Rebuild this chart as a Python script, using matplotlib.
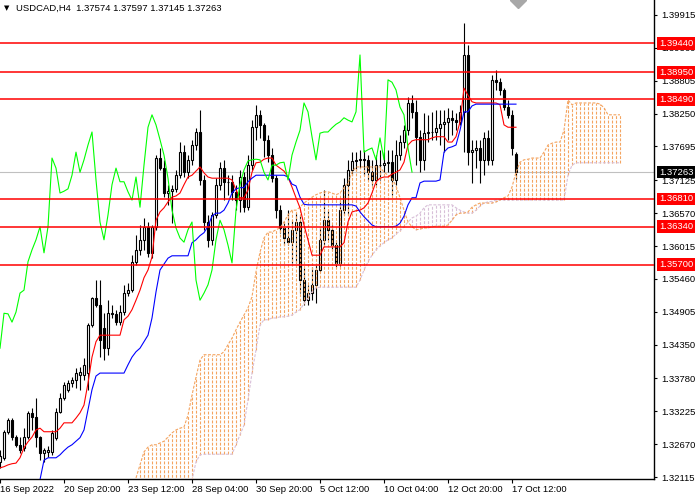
import matplotlib
matplotlib.use("Agg")
import matplotlib.pyplot as plt
from matplotlib.patches import Rectangle

plt.rcParams['font.family'] = ['Liberation Sans', 'DejaVu Sans']

# ---------------- data ----------------
symbol = "USDCAD,H4"

opens = [1.3237, 1.3244, 1.3288, 1.3308, 1.3279, 1.3266, 1.3261, 1.3279, 1.3320, 1.3313,
         1.3279, 1.3252, 1.3254, 1.3254, 1.3278, 1.3321, 1.3345, 1.3359, 1.3370, 1.3375,
         1.3384, 1.3384, 1.3387, 1.3468, 1.3514, 1.3502, 1.3463, 1.3429, 1.3488, 1.3487,
         1.3473, 1.3490, 1.3522, 1.3527, 1.3575, 1.3595, 1.3612, 1.3634, 1.3590, 1.3634,
         1.3750, 1.3733, 1.3691, 1.3694, 1.3698, 1.3721, 1.3760, 1.3726, 1.3747, 1.3772,
         1.3794, 1.3713, 1.3642, 1.3612, 1.3654, 1.3705, 1.3733, 1.3710, 1.3710, 1.3693,
         1.3679, 1.3718, 1.3667, 1.3738, 1.3802, 1.3823, 1.3806, 1.3781, 1.3755, 1.3716,
         1.3662, 1.3632, 1.3615, 1.3608, 1.3629, 1.3642, 1.3544, 1.3510, 1.3522, 1.3536,
         1.3561, 1.3612, 1.3645, 1.3629, 1.3603, 1.3573, 1.3662, 1.3705, 1.3730, 1.3745,
         1.3747, 1.3748, 1.3747, 1.3726, 1.3713, 1.3738, 1.3738, 1.3742, 1.3743, 1.3713,
         1.3755, 1.3777, 1.3797, 1.3843, 1.3828, 1.3786, 1.3747, 1.3792, 1.3794, 1.3794,
         1.3801, 1.3807, 1.3811, 1.3818, 1.3814, 1.3811, 1.3828, 1.3924, 1.3760, 1.3764,
         1.3767, 1.3747, 1.3784, 1.3747, 1.3882, 1.3878, 1.3865, 1.3836, 1.3823, 1.37574]

highs = [1.3257, 1.3291, 1.3311, 1.3311, 1.3283, 1.3279, 1.3294, 1.3323, 1.3328, 1.3345,
         1.3281, 1.3261, 1.3264, 1.3291, 1.3328, 1.3353, 1.3372, 1.3375, 1.3380, 1.3396,
         1.3397, 1.3413, 1.3472, 1.3516, 1.3544, 1.3544, 1.3488, 1.3510, 1.3502, 1.3494,
         1.3502, 1.3536, 1.3539, 1.3586, 1.3620, 1.3637, 1.3649, 1.3642, 1.3637, 1.3755,
         1.3767, 1.3747, 1.3705, 1.3705, 1.3730, 1.3777, 1.3772, 1.3755, 1.3781, 1.3801,
         1.3831, 1.3721, 1.3654, 1.3659, 1.3716, 1.3743, 1.3747, 1.3721, 1.3721, 1.3705,
         1.3730, 1.3726, 1.3755, 1.3814, 1.3840, 1.3831, 1.3809, 1.3789, 1.3767, 1.3721,
         1.3671, 1.3642, 1.3662, 1.3645, 1.3657, 1.3654, 1.3564, 1.3536, 1.3566, 1.3570,
         1.3634, 1.3696, 1.3662, 1.3637, 1.3612, 1.3679, 1.3716, 1.3747, 1.3760, 1.3760,
         1.3764, 1.3764, 1.3755, 1.3747, 1.3755, 1.3764, 1.3760, 1.3764, 1.3764, 1.3781,
         1.3789, 1.3806, 1.3853, 1.3856, 1.3848, 1.3797, 1.3826, 1.3823, 1.3828, 1.3831,
         1.3831, 1.3831, 1.3835, 1.3831, 1.3826, 1.3840, 1.3978, 1.3941, 1.3781, 1.3781,
         1.3781, 1.3794, 1.3797, 1.3890, 1.3899, 1.3885, 1.3868, 1.3848, 1.3831, 1.37597]

lows = [1.3227, 1.3240, 1.3284, 1.3274, 1.3262, 1.3252, 1.3256, 1.3276, 1.3291, 1.3262,
        1.3240, 1.3237, 1.3245, 1.3249, 1.3274, 1.3320, 1.3342, 1.3355, 1.3364, 1.3362,
        1.3359, 1.3375, 1.3359, 1.3465, 1.3499, 1.3414, 1.3409, 1.3418, 1.3480, 1.3468,
        1.3468, 1.3485, 1.3517, 1.3524, 1.3570, 1.3586, 1.3595, 1.3583, 1.3581, 1.3629,
        1.3730, 1.3684, 1.3671, 1.3640, 1.3693, 1.3716, 1.3718, 1.3716, 1.3738, 1.3764,
        1.3705, 1.3629, 1.3600, 1.3603, 1.3649, 1.3696, 1.3679, 1.3688, 1.3679, 1.3662,
        1.3659, 1.3659, 1.3662, 1.3730, 1.3781, 1.3784, 1.3752, 1.3743, 1.3710, 1.3649,
        1.3624, 1.3603, 1.3603, 1.3573, 1.3573, 1.3522, 1.3502, 1.3502, 1.3510, 1.3505,
        1.3558, 1.3603, 1.3612, 1.3595, 1.3566, 1.3568, 1.3654, 1.3654, 1.3721, 1.3730,
        1.3733, 1.3721, 1.3713, 1.3705, 1.3705, 1.3713, 1.3726, 1.3726, 1.3688, 1.3705,
        1.3747, 1.3767, 1.3789, 1.3818, 1.3738, 1.3726, 1.3730, 1.3777, 1.3781, 1.3781,
        1.3772, 1.3760, 1.3781, 1.3789, 1.3797, 1.3806, 1.3760, 1.3738, 1.3708, 1.3733,
        1.3708, 1.3721, 1.3738, 1.3738, 1.3865, 1.3857, 1.3831, 1.3818, 1.3755, 1.37145]

closes = [1.3247, 1.3288, 1.3308, 1.3279, 1.3266, 1.3257, 1.3279, 1.3320, 1.3313, 1.3279,
          1.3252, 1.3257, 1.3257, 1.3286, 1.3321, 1.3345, 1.3367, 1.3370, 1.3375, 1.3387,
          1.3389, 1.3401, 1.3468, 1.3514, 1.3502, 1.3443, 1.3429, 1.3488, 1.3487, 1.3473,
          1.3490, 1.3522, 1.3527, 1.3575, 1.3595, 1.3612, 1.3634, 1.3590, 1.3634, 1.3750,
          1.3733, 1.3691, 1.3694, 1.3698, 1.3721, 1.3760, 1.3726, 1.3747, 1.3772, 1.3794,
          1.3713, 1.3642, 1.3612, 1.3654, 1.3705, 1.3733, 1.3710, 1.3710, 1.3693, 1.3679,
          1.3718, 1.3667, 1.3738, 1.3802, 1.3823, 1.3806, 1.3781, 1.3755, 1.3716, 1.3662,
          1.3632, 1.3615, 1.3608, 1.3629, 1.3642, 1.3544, 1.3510, 1.3522, 1.3536, 1.3561,
          1.3612, 1.3645, 1.3629, 1.3603, 1.3573, 1.3662, 1.3705, 1.3730, 1.3745, 1.3747,
          1.3748, 1.3747, 1.3726, 1.3713, 1.3738, 1.3738, 1.3742, 1.3743, 1.3713, 1.3755,
          1.3777, 1.3797, 1.3843, 1.3828, 1.3786, 1.3747, 1.3792, 1.3794, 1.3794, 1.3801,
          1.3807, 1.3811, 1.3818, 1.3814, 1.3811, 1.3828, 1.3924, 1.3760, 1.3764, 1.3767,
          1.3747, 1.3784, 1.3747, 1.3882, 1.3878, 1.3865, 1.3836, 1.3823, 1.3767, 1.37263]

# Ichimoku lines
tenkan = [1.3227, 1.3229, 1.3232, 1.3234, 1.3235, 1.3244, 1.3261, 1.3271, 1.3279, 1.3291,
          1.3294, 1.3288, 1.3288, 1.3288, 1.3288, 1.3294, 1.3303, 1.3303, 1.3303, 1.3311,
          1.3320, 1.3333, 1.3370, 1.3414, 1.3440, 1.3451, 1.3451, 1.3451, 1.3451, 1.3451,
          1.3451, 1.3477, 1.3483, 1.3494, 1.3510, 1.3527, 1.3548, 1.3561, 1.3583, 1.3645,
          1.3659, 1.3666, 1.3676, 1.3684, 1.3686, 1.3691, 1.3705, 1.3718, 1.3721, 1.3728,
          1.3735, 1.3725, 1.3718, 1.3716, 1.3716, 1.3716, 1.3716, 1.3716, 1.3713, 1.3696,
          1.3683, 1.3683, 1.3696, 1.3726, 1.3742, 1.3743, 1.3748, 1.3750, 1.3750, 1.3738,
          1.3733, 1.3728, 1.3718, 1.3701, 1.3683, 1.3666, 1.3637, 1.3612, 1.3586, 1.3586,
          1.3586, 1.3600, 1.3600, 1.3600, 1.3600, 1.3600, 1.3607, 1.3642, 1.3659, 1.3661,
          1.3662, 1.3666, 1.3674, 1.3691, 1.3710, 1.3716, 1.3718, 1.3718, 1.3723, 1.3726,
          1.3730, 1.3743, 1.3772, 1.3779, 1.3781, 1.3781, 1.3781, 1.3781, 1.3784, 1.3786,
          1.3786, 1.3786, 1.3777, 1.3777, 1.3786, 1.3811, 1.3868, 1.3856, 1.3845, 1.3843,
          1.3843, 1.3843, 1.3843, 1.3843, 1.3843, 1.3840, 1.3806, 1.3802, 1.3802, 1.3802]

kijun_start = 10
kijun = [1.3207, 1.3240, 1.3244, 1.3244, 1.3244, 1.3249, 1.3256, 1.3262, 1.3266, 1.3272,
         1.3278, 1.3291, 1.3325, 1.3359, 1.3382, 1.3387, 1.3387, 1.3387, 1.3387, 1.3387,
         1.3387, 1.3387, 1.3401, 1.3414, 1.3423, 1.3429, 1.3440, 1.3451, 1.3480, 1.3524,
         1.3561, 1.3571, 1.3581, 1.3585, 1.3585, 1.3585, 1.3585, 1.3585, 1.3607, 1.3612,
         1.3619, 1.3624, 1.3635, 1.3652, 1.3657, 1.3657, 1.3662, 1.3674, 1.3691, 1.3698,
         1.3700, 1.3700, 1.3710, 1.3716, 1.3721, 1.3721, 1.3721, 1.3721, 1.3721, 1.3721,
         1.3721, 1.3721, 1.3718, 1.3706, 1.3703, 1.3684, 1.3672, 1.3671, 1.3671, 1.3671,
         1.3671, 1.3671, 1.3671, 1.3671, 1.3671, 1.3671, 1.3671, 1.3671, 1.3671, 1.3669,
         1.3659, 1.3651, 1.3644, 1.3637, 1.3634, 1.3634, 1.3634, 1.3634, 1.3634, 1.3635,
         1.3640, 1.3652, 1.3671, 1.3683, 1.3683, 1.3708, 1.3711, 1.3711, 1.3711, 1.3711,
         1.3713, 1.3760, 1.3767, 1.3769, 1.3772, 1.3797, 1.3828, 1.3828, 1.3838, 1.3841,
         1.3841, 1.3841, 1.3841, 1.3841, 1.3841, 1.3841, 1.3841, 1.3841, 1.3841, 1.3841]

cloud_start = 34
span_a = [1.3210, 1.3232, 1.3254, 1.3262, 1.3266, 1.3266, 1.3269, 1.3272, 1.3279, 1.3286,
          1.3291, 1.3294, 1.3296, 1.3316, 1.3350, 1.3380, 1.3409, 1.3418, 1.3418, 1.3418,
          1.3418, 1.3418, 1.3423, 1.3435, 1.3446, 1.3460, 1.3473, 1.3485, 1.3497, 1.3516,
          1.3558, 1.3591, 1.3615, 1.3625, 1.3625, 1.3629, 1.3632, 1.3642, 1.3654, 1.3662,
          1.3662, 1.3667, 1.3674, 1.3679, 1.3684, 1.3688, 1.3691, 1.3693, 1.3693, 1.3691,
          1.3688, 1.3691, 1.3700, 1.3708, 1.3726, 1.3735, 1.3735, 1.3735, 1.3735, 1.3735,
          1.3735, 1.3735, 1.3726, 1.3721, 1.3716, 1.3703, 1.3683, 1.3662, 1.3642, 1.3634,
          1.3629, 1.3630, 1.3632, 1.3632, 1.3634, 1.3635, 1.3635, 1.3635, 1.3637, 1.3645,
          1.3654, 1.3657, 1.3657, 1.3659, 1.3667, 1.3671, 1.3674, 1.3674, 1.3674, 1.3674,
          1.3676, 1.3679, 1.3683, 1.3686, 1.3701, 1.3726, 1.3743, 1.3747, 1.3748, 1.3750,
          1.3750, 1.3750, 1.3760, 1.3772, 1.3775, 1.3777, 1.3777, 1.3797, 1.3848, 1.3840,
          1.3843, 1.3843, 1.3843, 1.3843, 1.3843, 1.3843, 1.3841, 1.3835, 1.3823, 1.3823,
          1.3823, 1.3823]

span_b = [1.3181, 1.3181, 1.3181, 1.3181, 1.3181, 1.3181, 1.3181, 1.3181, 1.3181, 1.3181,
          1.3181, 1.3181, 1.3181, 1.3181, 1.3207, 1.3237, 1.3249, 1.3250, 1.3250, 1.3250,
          1.3250, 1.3250, 1.3250, 1.3250, 1.3250, 1.3266, 1.3283, 1.3299, 1.3342, 1.3387,
          1.3426, 1.3468, 1.3477, 1.3477, 1.3480, 1.3480, 1.3482, 1.3482, 1.3483, 1.3485,
          1.3490, 1.3494, 1.3504, 1.3514, 1.3524, 1.3531, 1.3532, 1.3532, 1.3532, 1.3532,
          1.3532, 1.3532, 1.3532, 1.3532, 1.3532, 1.3532, 1.3544, 1.3561, 1.3575, 1.3586,
          1.3595, 1.3602, 1.3607, 1.3612, 1.3615, 1.3622, 1.3627, 1.3634, 1.3642, 1.3649,
          1.3652, 1.3657, 1.3666, 1.3671, 1.3671, 1.3671, 1.3671, 1.3671, 1.3671, 1.3671,
          1.3666, 1.3662, 1.3659, 1.3657, 1.3657, 1.3662, 1.3669, 1.3674, 1.3676, 1.3677,
          1.3679, 1.3679, 1.3679, 1.3679, 1.3679, 1.3679, 1.3679, 1.3679, 1.3679, 1.3679,
          1.3679, 1.3679, 1.3679, 1.3679, 1.3679, 1.3679, 1.3679, 1.3679, 1.3721, 1.3738,
          1.3742, 1.3742, 1.3742, 1.3742, 1.3742, 1.3742, 1.3742, 1.3742, 1.3742, 1.3742,
          1.3742, 1.3742]

chikou_shift = 26

levels = [1.39440, 1.38950, 1.38490, 1.36810, 1.36340, 1.35700]
last_price = 1.37263

y_ticks = [1.39915, 1.39360, 1.38805, 1.38250, 1.37695, 1.37125, 1.36570, 1.36015,
           1.35460, 1.34905, 1.34350, 1.33780, 1.33225, 1.32670, 1.32115]
x_tick_bars = [0, 16, 32, 48, 64, 80, 96, 112, 128]
x_tick_labels = ["16 Sep 2022", "20 Sep 20:00", "23 Sep 12:00", "28 Sep 04:00",
                 "30 Sep 20:00", "5 Oct 12:00", "10 Oct 04:00", "12 Oct 20:00",
                 "17 Oct 12:00"]

# ---------------- figure ----------------
W, H = 700, 499
fig = plt.figure(figsize=(W / 100, H / 100), dpi=100)
fig.patch.set_facecolor('white')
ax = fig.add_axes([0, 20 / H, 654 / W, 479 / H])
ax.set_facecolor('white')
ax.set_xlim(0, 163.5)
ax.set_ylim(1.32082, 1.40168)

FS = 6.8
SANDY = '#F4A460'
THISTLE = '#D8BFD8'
LW = 0.8
DOT = (0, (2.6, 1.4))

n = len(closes)
xs = list(range(n))

# current price line
ax.axhline(last_price, color='#C0C0C0', lw=LW, zorder=1)

# candles
ax.vlines(xs, lows, highs, colors='black', lw=LW, zorder=2)
for i in xs:
    o, c = opens[i], closes[i]
    ax.add_patch(Rectangle((i - 0.3, min(o, c)), 0.6, abs(c - o),
                           facecolor='white' if c >= o else 'black',
                           edgecolor='black', lw=LW, zorder=2.1))

# cloud hatch and edges
cx = [cloud_start + k for k in range(len(span_a))]
cols = [SANDY if a >= b else THISTLE for a, b in zip(span_a, span_b)]
ax.vlines(cx, [min(a, b) for a, b in zip(span_a, span_b)],
          [max(a, b) for a, b in zip(span_a, span_b)],
          colors=cols, linestyles=[DOT], lw=LW, zorder=3)
ax.plot(cx, span_b, color=THISTLE, ls=DOT, lw=LW, zorder=3.1)
ax.plot(cx, span_a, color=SANDY, ls=DOT, lw=LW, zorder=3.2)

# tenkan, kijun, chikou
ax.plot(xs, tenkan, color='#FF0000', lw=LW, zorder=4)
ax.plot(range(kijun_start, kijun_start + len(kijun)), kijun, color='#0000FF', lw=LW,
        zorder=4)
ax.plot(xs[:n - chikou_shift], closes[chikou_shift:], color='#00FF00', lw=LW, zorder=4)

# horizontal levels
for lv in levels:
    ax.axhline(lv, color='#FF0000', lw=1.1, zorder=5)

# axes styling
for s in ('top', 'left'):
    ax.spines[s].set_visible(False)
for s in ('right', 'bottom'):
    ax.spines[s].set_linewidth(1.0)
    ax.spines[s].set_color('black')

ax.yaxis.tick_right()
ax.set_yticks(y_ticks)
ax.set_yticklabels([f"{v:.5f}" for v in y_ticks])
ax.tick_params(axis='y', direction='out', length=2.5, width=0.8, pad=3,
               labelsize=FS, colors='black')
ax.set_xticks(x_tick_bars)
ax.set_xticklabels(x_tick_labels)
for lab in ax.get_xticklabels():
    lab.set_horizontalalignment('left')
ax.tick_params(axis='x', direction='out', length=3, width=0.8, pad=1.5,
               labelsize=FS, colors='black')

# price label boxes on the right axis
for lv in levels:
    ax.annotate(f"{lv:.5f}", xy=(1, lv), xycoords=('axes fraction', 'data'),
                xytext=(5, 0), textcoords='offset pixels', ha='left', va='center',
                fontsize=FS, color='white', annotation_clip=False, zorder=10,
                bbox=dict(boxstyle='square,pad=0.2', fc='#FF0000', ec='none'))
ax.annotate(f"{last_price:.5f}", xy=(1, last_price), xycoords=('axes fraction', 'data'),
            xytext=(5, 0), textcoords='offset pixels', ha='left', va='center',
            fontsize=FS, color='white', annotation_clip=False, zorder=10,
            bbox=dict(boxstyle='square,pad=0.2', fc='black', ec='none'))

# chart shift marker at top
ax.plot([n - 0.5], [1.40168], marker='D', ms=8, color='#A8A8A8', clip_on=False, zorder=6)

# title
title = f"{symbol}  {opens[-1]:.5f} {highs[-1]:.5f} {lows[-1]:.5f} {closes[-1]:.5f}"
fig.text(16 / W, 1 - 8 / H, title, fontsize=FS, va='center', ha='left', color='black')
fig.text(4 / W, 1 - 8 / H, "\u25BC", fontsize=5, va='center', ha='left', color='black',
         family='DejaVu Sans')

fig.savefig('out.png', dpi=100, facecolor='white')
